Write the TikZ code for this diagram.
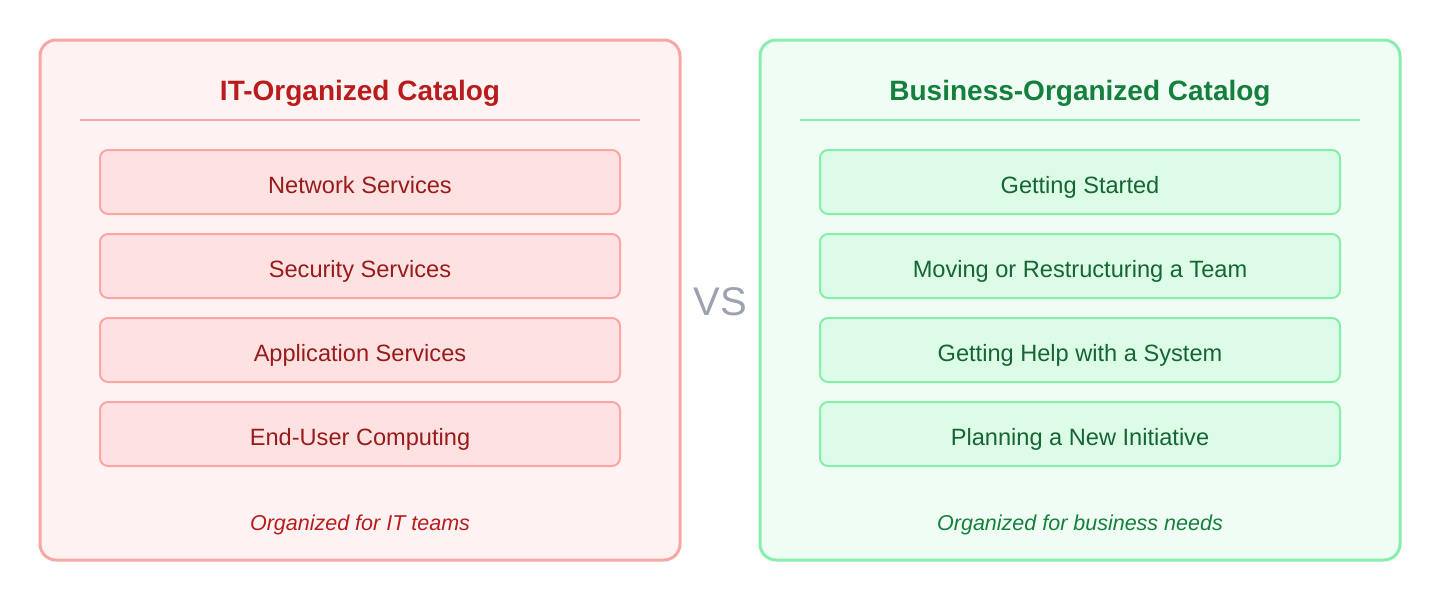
\documentclass[tikz,border=0pt]{standalone}
\usepackage{fontspec}
\setmainfont{Liberation Sans}
\definecolor{rborder}{HTML}{FCA5A5}
\definecolor{rfill}{HTML}{FEF2F2}
\definecolor{ritem}{HTML}{FEE2E2}
\definecolor{rtitle}{HTML}{B91C1C}
\definecolor{rtext}{HTML}{991B1B}
\definecolor{gborder}{HTML}{86EFAC}
\definecolor{gfill}{HTML}{F0FDF4}
\definecolor{gitem}{HTML}{DCFCE7}
\definecolor{gtitle}{HTML}{15803D}
\definecolor{gtext}{HTML}{166534}
\definecolor{vsgray}{HTML}{9CA3AF}
\begin{document}
\begin{tikzpicture}[x=1pt,y=-1pt,
  panel/.style={rounded corners=16pt,line width=3pt},
  item/.style={rounded corners=8pt,line width=2pt},
  ttl/.style={font=\fontsize{28}{32}\selectfont\bfseries},
  itxt/.style={font=\fontsize{23.6}{28}\selectfont,anchor=base,inner sep=0pt},
  foot/.style={font=\fontsize{21.5}{26}\selectfont\itshape}]
\useasboundingbox (0,0) rectangle (1440,600);
% left panel
\draw[panel,draw=rborder,fill=rfill] (40,40) rectangle (680,560);
\node[ttl,text=rtitle] (lt) at (360,93) {IT-Organized Catalog};
\draw[rborder,line width=2pt] (80,120) -- (640,120);
\foreach \y/\t/\n in {150/Network Services/l1,234/Security Services/l2,318/Application Services/l3,402/End-User Computing/l4}{
  \draw[item,draw=rborder,fill=ritem] (100,\y) rectangle (620,\y+64);
  \node[itxt,text=rtext] (\n) at (360,\y+43) {\t};
}
\node[foot,text=rtitle] (lf) at (360,525) {Organized for IT teams};
% VS
\node[font=\fontsize{40}{44}\selectfont,text=vsgray] (vs) at (720,302) {VS};
% right panel
\draw[panel,draw=gborder,fill=gfill] (760,40) rectangle (1400,560);
\node[ttl,text=gtitle] (rt) at (1080,93) {Business-Organized Catalog};
\draw[gborder,line width=2pt] (800,120) -- (1360,120);
\foreach \y/\t/\n in {150/Getting Started/r1,234/Moving or Restructuring a Team/r2,318/Getting Help with a System/r3,402/Planning a New Initiative/r4}{
  \draw[item,draw=gborder,fill=gitem] (820,\y) rectangle (1340,\y+64);
  \node[itxt,text=gtext] (\n) at (1080,\y+43) {\t};
}
\node[foot,text=gtitle] (rf) at (1080,525) {Organized for business needs};
\end{tikzpicture}
\end{document}
